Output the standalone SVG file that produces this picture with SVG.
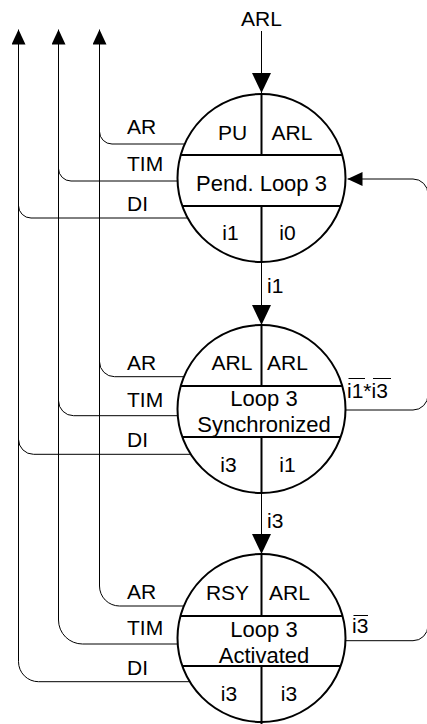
<svg xmlns="http://www.w3.org/2000/svg" width="427" height="724" viewBox="0 0 427 724">
<style>
text{font-family:"Liberation Sans",Arial,sans-serif;font-size:21px;fill:#000}
.m{text-anchor:middle}
.n{font-size:22px}
.c{fill:#fff;stroke:#000;stroke-width:2}
.d{stroke:#000;stroke-width:2;fill:none}
.w{fill:none;stroke:#000;stroke-width:1}
.o{stroke:#000;stroke-width:1}
</style>
<defs>
<marker id="big" viewBox="0 0 20 19" refX="20" refY="9.5" markerWidth="20" markerHeight="19" markerUnits="userSpaceOnUse" orient="auto"><path d="M0,0 L20,9.5 L0,19 z" fill="#000"/></marker>
<marker id="sm" viewBox="0 0 15 14" refX="15" refY="7" markerWidth="15" markerHeight="14" markerUnits="userSpaceOnUse" orient="auto"><path d="M0,0 L15,7 L0,14 z" fill="#000"/></marker>
</defs>
<g id="connectors">
<path class="w" d="M261.5,31 V93" marker-end="url(#big)"/>
<path class="w" d="M261.5,262 V325" marker-end="url(#big)"/>
<path class="w" d="M261.5,493 V554" marker-end="url(#big)"/>
<path class="w" d="M183.8,606 H119.5 A20,20 0 0 1 99.5,586 V29.5" marker-end="url(#sm)"/>
<path class="w" d="M177.7,644 H82.5 A24,24 0 0 1 58.5,620 V29.5" marker-end="url(#sm)"/>
<path class="w" d="M189.8,681.7 H38.5 A20,20 0 0 1 18.5,661.7 V29.5" marker-end="url(#sm)"/>
<path class="w" d="M184.5,144 H112 A12.5,12.5 0 0 1 99.5,131.5"/>
<path class="w" d="M177.5,181 H71 A12.5,12.5 0 0 1 58.5,168.5"/>
<path class="w" d="M187.6,218 H31 A12.5,12.5 0 0 1 18.5,205.5"/>
<path class="w" d="M184,376.7 H114.5 A15,15 0 0 1 99.5,361.7"/>
<path class="w" d="M177.8,415.7 H73.5 A15,15 0 0 1 58.5,400.7"/>
<path class="w" d="M190.8,454.3 H33.5 A15,15 0 0 1 18.5,439.3"/>
<path class="w" d="M345.5,410 H413 A15,15 0 0 0 428,395 V194 A15,15 0 0 0 413,179 H347.5" marker-end="url(#sm)"/>
<path class="w" d="M345.5,640.7 H413 A15,15 0 0 0 428,625.7 V395"/>
</g>
<g id="labels">
<text class="m" x="261.5" y="26">ARL</text>
<text x="127" y="133.5">AR</text>
<text x="127" y="171">TIM</text>
<text x="127" y="211">DI</text>
<text x="267" y="293">i1</text>
<text x="127" y="369.5">AR</text>
<text x="127" y="407">TIM</text>
<text x="127" y="447">DI</text>
<text x="347" y="397.5">i1*i3</text>
<line class="o" x1="348.5" y1="378.5" x2="365" y2="378.5"/>
<line class="o" x1="373" y1="378.5" x2="391" y2="378.5"/>
<text x="267" y="527.5">i3</text>
<text x="127" y="599">AR</text>
<text x="127" y="635">TIM</text>
<text x="127" y="674.5">DI</text>
<text x="352" y="632.5">i3</text>
<line class="o" x1="353.5" y1="615.5" x2="368" y2="615.5"/>
</g>
<g id="node-pend-loop3">
<circle class="c" cx="261.5" cy="178" r="84"/>
<line class="d" x1="180.7" y1="155" x2="342.3" y2="155"/>
<line class="d" x1="182.3" y1="206" x2="340.7" y2="206"/>
<line class="d" x1="261.5" y1="94" x2="261.5" y2="155"/>
<line class="d" x1="261.5" y1="206" x2="261.5" y2="262"/>
<text class="m" x="232.5" y="139.5">PU</text>
<text class="m" x="292" y="139.5">ARL</text>
<text class="m n" x="261.5" y="191">Pend. Loop 3</text>
<text class="m" x="230.5" y="240">i1</text>
<text class="m" x="287.5" y="240">i0</text>
</g>
<g id="node-loop3-synchronized">
<circle class="c" cx="261.5" cy="409" r="84"/>
<line class="d" x1="180.7" y1="386" x2="342.3" y2="386"/>
<line class="d" x1="182.3" y1="437" x2="340.7" y2="437"/>
<line class="d" x1="261.5" y1="325" x2="261.5" y2="386"/>
<line class="d" x1="261.5" y1="437" x2="261.5" y2="493"/>
<text class="m" x="232" y="370">ARL</text>
<text class="m" x="287.5" y="370">ARL</text>
<text class="m n" x="264" y="406">Loop 3</text>
<text class="m n" x="264" y="432">Synchronized</text>
<text class="m" x="228.5" y="472">i3</text>
<text class="m" x="287.5" y="472">i1</text>
</g>
<g id="node-loop3-activated">
<circle class="c" cx="261.5" cy="638" r="84"/>
<line class="d" x1="180.5" y1="616" x2="342.5" y2="616"/>
<line class="d" x1="182.3" y1="666" x2="340.7" y2="666"/>
<line class="d" x1="261.5" y1="554" x2="261.5" y2="616"/>
<line class="d" x1="261.5" y1="666" x2="261.5" y2="724"/>
<text class="m" x="227.5" y="599.5">RSY</text>
<text class="m" x="289.5" y="599.5">ARL</text>
<text class="m n" x="264" y="637">Loop 3</text>
<text class="m n" x="264" y="663">Activated</text>
<text class="m" x="229" y="701">i3</text>
<text class="m" x="289" y="701">i3</text>
</g>
</svg>
